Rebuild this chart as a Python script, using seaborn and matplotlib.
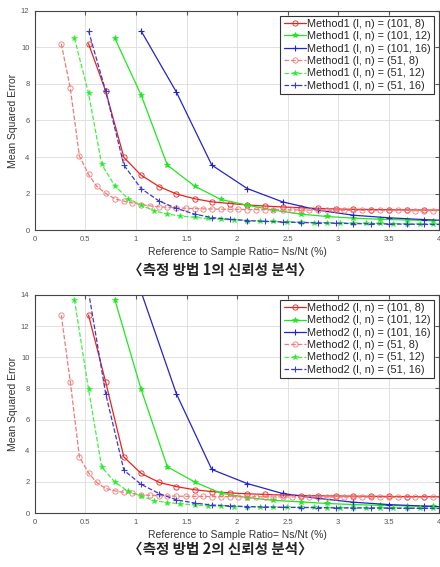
import numpy as np
import pandas as pd
import matplotlib
matplotlib.use("Agg")
import matplotlib.pyplot as plt
import seaborn as sns

# x positions (reference to sample ratio, %) per (l, n) configuration
x_101_8 = [0.53, 0.70, 0.88, 1.05, 1.23, 1.40, 1.58, 1.75, 1.93, 2.10, 2.28,
           2.45, 2.63, 2.80, 2.98, 3.15, 3.33, 3.50, 3.68, 3.85, 4.03]
x_101_12 = [0.79, 1.05, 1.31, 1.58, 1.84, 2.10, 2.36, 2.63, 2.89, 3.15, 3.41,
            3.68, 3.94]
x_101_16 = [1.05, 1.40, 1.75, 2.10, 2.45, 2.80, 3.15, 3.50, 3.85, 4.20]
x_51_8 = [0.26, 0.35, 0.44, 0.53, 0.61, 0.70, 0.79, 0.88, 0.96, 1.05, 1.14,
          1.23, 1.31, 1.40, 1.49, 1.58, 1.66, 1.75, 1.84, 1.93, 2.01, 2.10,
          2.19, 2.28, 2.36, 2.45, 2.54, 2.63, 2.71, 2.80, 2.89, 2.98, 3.06,
          3.15, 3.24, 3.33, 3.41, 3.50, 3.59, 3.68, 3.76, 3.85, 3.94, 4.03]
x_51_12 = [0.39, 0.53, 0.66, 0.79, 0.92, 1.05, 1.18, 1.31, 1.44, 1.58, 1.71,
           1.84, 1.97, 2.10, 2.23, 2.36, 2.49, 2.63, 2.76, 2.89, 3.02, 3.15,
           3.28, 3.41, 3.54, 3.68, 3.81, 3.94, 4.07]
x_51_16 = x_101_8

# Method 1 MSE
m1_101_8 = [10.2, 7.6, 3.98, 3.01, 2.38, 1.98, 1.72, 1.55, 1.46, 1.38, 1.32,
            1.27, 1.23, 1.19, 1.16, 1.14, 1.13, 1.12, 1.11, 1.10, 1.10]
m1_101_12 = [10.5, 7.4, 3.56, 2.41, 1.68, 1.37, 1.10, 0.88, 0.75, 0.66, 0.60,
             0.56, 0.52]
m1_101_16 = [10.9, 7.55, 3.56, 2.28, 1.55, 1.10, 0.82, 0.68, 0.58, 0.50]
m1_51_8 = [10.2, 7.75, 4.05, 3.05, 2.41, 2.01, 1.72, 1.59, 1.50, 1.40, 1.33,
           1.28, 1.25, 1.22, 1.20, 1.18, 1.17, 1.16, 1.15, 1.14, 1.14, 1.13,
           1.13, 1.12, 1.12, 1.11, 1.11, 1.11, 1.10, 1.10, 1.10, 1.09, 1.09,
           1.09, 1.09, 1.08, 1.08, 1.08, 1.08, 1.08, 1.07, 1.07, 1.07, 1.07]
m1_51_12 = [10.5, 7.5, 3.6, 2.43, 1.73, 1.37, 1.06, 0.88, 0.78, 0.70, 0.64,
            0.60, 0.56, 0.53, 0.50, 0.48, 0.46, 0.44, 0.42, 0.41, 0.40, 0.39,
            0.38, 0.37, 0.36, 0.35, 0.35, 0.34, 0.33]
m1_51_16 = [10.9, 7.6, 3.56, 2.28, 1.59, 1.19, 0.88, 0.69, 0.60, 0.53, 0.48,
            0.45, 0.42, 0.40, 0.38, 0.36, 0.35, 0.34, 0.33, 0.32, 0.31]

# Method 2 MSE
m2_101_8 = [12.7, 8.4, 3.6, 2.55, 1.97, 1.70, 1.50, 1.38, 1.30, 1.24, 1.20,
            1.16, 1.13, 1.11, 1.10, 1.09, 1.08, 1.07, 1.06, 1.06, 1.05]
m2_101_12 = [13.7, 7.95, 2.97, 2.0, 1.28, 1.0, 0.82, 0.72, 0.62, 0.55, 0.50,
             0.47, 0.44]
m2_101_16 = [14.2, 7.65, 2.8, 1.9, 1.26, 0.95, 0.70, 0.55, 0.45, 0.38]
m2_51_8 = [12.7, 8.4, 3.6, 2.58, 1.97, 1.58, 1.43, 1.33, 1.26, 1.18, 1.14,
           1.12, 1.10, 1.09, 1.08, 1.07, 1.07, 1.06, 1.06, 1.06, 1.05, 1.05,
           1.05, 1.05, 1.04, 1.04, 1.04, 1.04, 1.04, 1.03, 1.03, 1.03, 1.03,
           1.03, 1.03, 1.03, 1.02, 1.02, 1.02, 1.02, 1.02, 1.02, 1.02, 1.02]
m2_51_12 = [13.7, 7.95, 2.95, 2.0, 1.4, 1.1, 0.8, 0.68, 0.60, 0.52, 0.47,
            0.44, 0.42, 0.41, 0.40, 0.39, 0.38, 0.37, 0.37, 0.36, 0.36, 0.35,
            0.35, 0.34, 0.34, 0.33, 0.33, 0.32, 0.32]
m2_51_16 = [14.2, 7.65, 2.75, 1.85, 1.25, 0.85, 0.65, 0.52, 0.47, 0.42, 0.39,
            0.37, 0.36, 0.35, 0.34, 0.33, 0.33, 0.32, 0.31, 0.31, 0.30]

configs = ["(101, 8)", "(101, 12)", "(101, 16)", "(51, 8)", "(51, 12)", "(51, 16)"]
xs = [x_101_8, x_101_12, x_101_16, x_51_8, x_51_12, x_51_16]
method1 = [m1_101_8, m1_101_12, m1_101_16, m1_51_8, m1_51_12, m1_51_16]
method2 = [m2_101_8, m2_101_12, m2_101_16, m2_51_8, m2_51_12, m2_51_16]

styles = [
    dict(color="#e8231f", ls="-", marker="o", mfc="none", ms=3.8, mew=0.6),
    dict(color="#1fe81f", ls="-", marker="*", mfc="#1fe81f", ms=4.2, mew=0.5),
    dict(color="#2424c8", ls="-", marker="+", mfc="none", ms=4.2, mew=0.8),
    dict(color="#f07a78", ls="--", marker="o", mfc="none", ms=3.8, mew=0.6),
    dict(color="#44ee44", ls="--", marker="*", mfc="#22e822", ms=4.2, mew=0.5),
    dict(color="#3a3ad0", ls="--", marker="+", mfc="none", ms=4.2, mew=0.8),
]

sns.set_style("whitegrid")
plt.rcParams['font.family'] = ['Liberation Sans', 'DejaVu Sans']

fig = plt.figure(figsize=(4.4, 5.67), dpi=100)
ax1 = fig.add_axes([0.0795, 0.594, 0.9185, 0.387])
ax2 = fig.add_axes([0.0795, 0.095, 0.9185, 0.385])


def draw(ax, values, method, ymax, caption, cap_y):
    for cfg, x, y, st in zip(configs, xs, values, styles):
        df = pd.DataFrame({"ratio": x, "mse": y})
        sns.lineplot(data=df, x="ratio", y="mse", ax=ax, color=st["color"],
                     linestyle=st["ls"], marker=st["marker"], markersize=st["ms"],
                     markerfacecolor=st["mfc"], markeredgecolor=st["color"],
                     markeredgewidth=st["mew"], linewidth=0.9,
                     label=f"{method} (l, n) = {cfg}", estimator=None, sort=False)
    ax.set_xlim(0, 4)
    ax.set_ylim(0, ymax)
    ax.set_xticks(np.arange(0, 4.01, 0.5))
    ax.set_xticklabels(["0", "0.5", "1", "1.5", "2", "2.5", "3", "3.5", "4"])
    ax.set_yticks(np.arange(0, ymax + 0.1, 2))
    ax.tick_params(direction="in", length=3, labelsize=5.5, colors="#555555",
                   pad=4, top=True, right=True)
    ax.grid(True, color="#dcdcdc", linewidth=0.6)
    for s in ax.spines.values():
        s.set_color("#444444")
        s.set_linewidth(0.8)
    ax.set_xlabel("Reference to Sample Ratio= Ns/Nt (%)", fontsize=7.5, color="#333333", labelpad=3)
    ax.set_ylabel("Mean Squared Error", fontsize=7.5, color="#333333", labelpad=2)
    leg = ax.legend(loc="upper right", fontsize=7.8, frameon=True, fancybox=False,
                    borderpad=0.3, labelspacing=0.22, handlelength=2.05,
                    handletextpad=0.15, borderaxespad=0.45, framealpha=1)
    leg.get_frame().set_edgecolor("#333333")
    leg.get_frame().set_linewidth(0.8)
    fig.text(0.5, cap_y, caption, ha="center", va="center", fontsize=10.5,
             fontweight="bold", family=["Noto Sans CJK KR", "DejaVu Sans"], color="#222222")


draw(ax1, method1, "Method1", 12, "〈측정 방법 1의 신뢰성 분석〉", 1 - 270 / 567)
draw(ax2, method2, "Method2", 14, "〈측정 방법 2의 신뢰성 분석〉", 1 - 549 / 567)

fig.savefig("out.png", dpi=100)
